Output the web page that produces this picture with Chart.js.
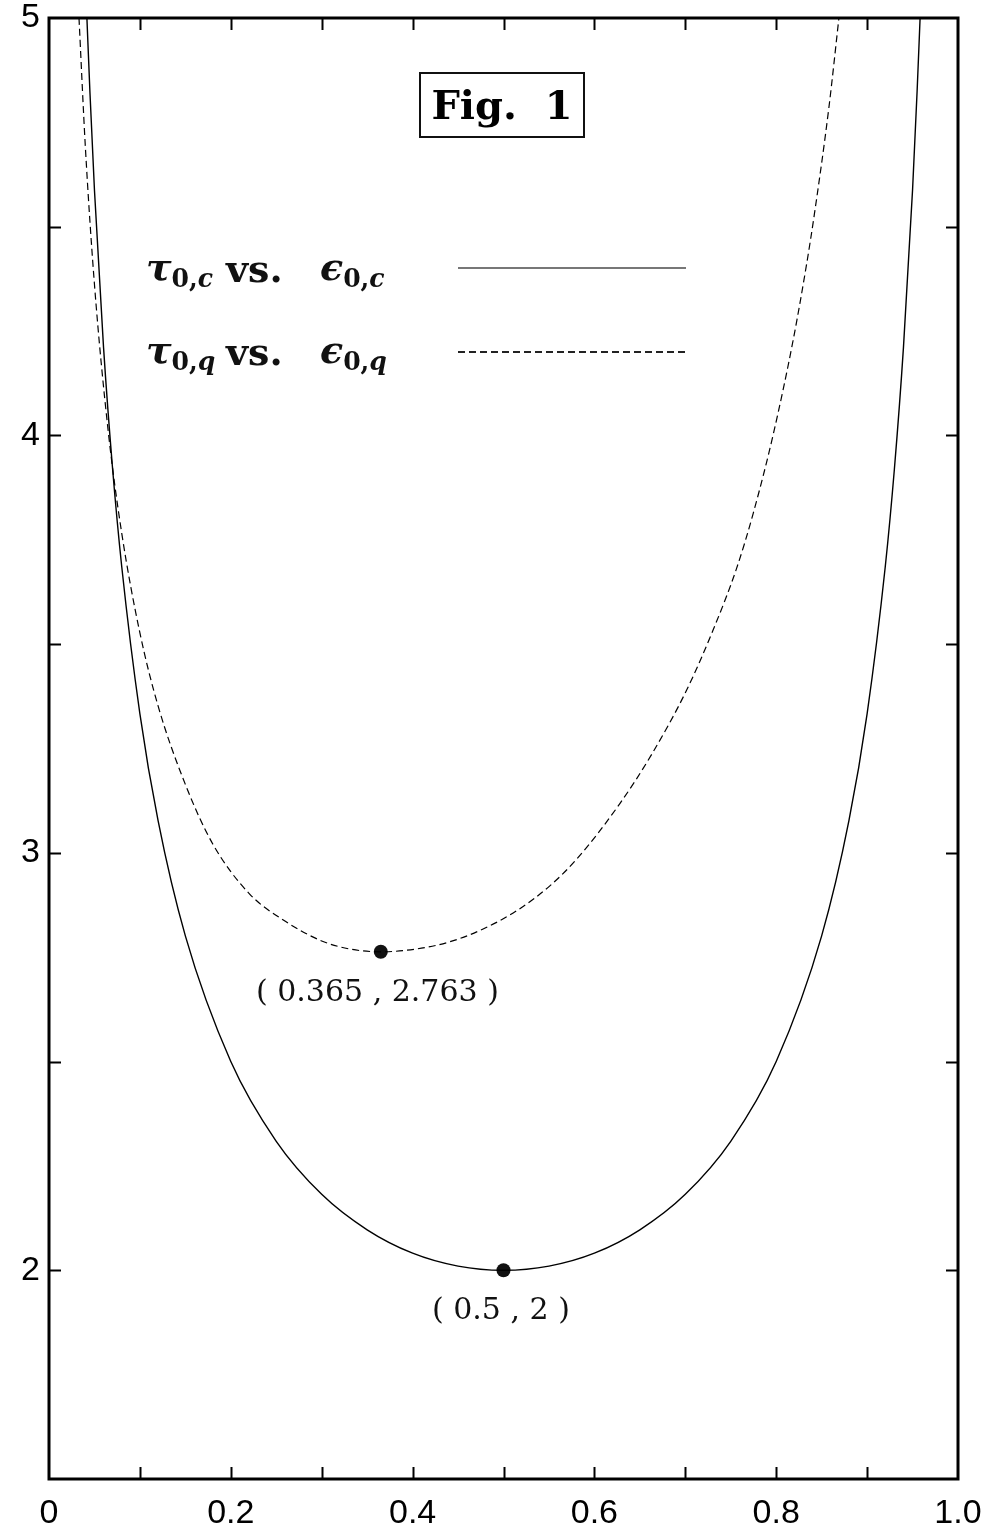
<!DOCTYPE html>
<html>
<head>
<meta charset="utf-8">
<script src="https://cdn.jsdelivr.net/npm/chart.js@4.4.0/dist/chart.umd.min.js"></script>
<style>
  html, body { margin: 0; padding: 0; background: #fff; }
  #wrap { position: relative; width: 986px; height: 1531px; }
  #chart { position: absolute; left: 0; top: 0; }
  .txt { position: absolute; white-space: nowrap; color: #111; line-height: 1; }
  .math { font-family: 'DejaVu Serif', 'Liberation Serif', serif; font-weight: bold; font-size: 38px; }
  .math i { font-style: italic; }
  .math sub { font-size: 0.66em; vertical-align: -0.28em; }
  .vs { font-family: 'DejaVu Serif', serif; font-weight: bold; font-size: 38px; }
  .figbox { position: absolute; left: 419px; top: 72px; width: 162px; height: 62px; border: 2px solid #111;
            font-family: 'DejaVu Serif', serif; font-weight: bold; font-size: 40px; line-height: 62px; text-align: center; }
  .sample { position: absolute; left: 458px; width: 228px; }
  .note { font-family: 'DejaVu Serif', 'Liberation Serif', serif; font-size: 30px; }
</style>
</head>
<body>
<div id="wrap">
  <canvas id="chart" width="986" height="1531"></canvas>

  <div class="figbox">Fig.&nbsp; 1</div>

  <div class="txt math" style="left:146px; top:248px;"><i>τ</i><sub>0,<i>c</i></sub></div>
  <div class="txt vs" style="left:226px; top:250px;">vs.</div>
  <div class="txt math" style="left:320px; top:248px;"><i>ϵ</i><sub>0,<i>c</i></sub></div>
  <div class="sample" style="top:267px; height:2px; background:#777;"></div>

  <div class="txt math" style="left:146px; top:331px;"><i>τ</i><sub>0,<i>q</i></sub></div>
  <div class="txt vs" style="left:226px; top:333px;">vs.</div>
  <div class="txt math" style="left:320px; top:331px;"><i>ϵ</i><sub>0,<i>q</i></sub></div>
  <div class="sample" style="top:351px; height:1.5px; background:repeating-linear-gradient(to right, #222 0 7px, transparent 7px 11px);"></div>

  <div class="txt note" style="left:256px; top:976px;">( 0.365 , 2.763 )</div>
  <div class="txt note" style="left:432px; top:1294px;">( 0.5 , 2 )</div>
</div>

<script>
// tau_0,c vs eps_0,c (solid curve, minimum at 0.5)
const classicalEps = [0.0417, 0.045, 0.05, 0.06, 0.07, 0.08, 0.10, 0.12, 0.15, 0.20, 0.25, 0.30, 0.35, 0.40, 0.45, 0.50,
                      0.55, 0.60, 0.65, 0.70, 0.75, 0.80, 0.85, 0.88, 0.90, 0.92, 0.93, 0.94, 0.95, 0.955, 0.9583];
const classicalTau = [5.0, 4.824, 4.588, 4.211, 3.919, 3.686, 3.333, 3.077, 2.801, 2.5, 2.309, 2.182, 2.097, 2.041, 2.010, 2.0,
                      2.010, 2.041, 2.097, 2.182, 2.309, 2.5, 2.801, 3.077, 3.333, 3.686, 3.919, 4.211, 4.588, 4.824, 5.0];

// tau_0,q vs eps_0,q (dashed curve, minimum at 0.365)
const quantumEps = [0.033, 0.040, 0.050, 0.065, 0.080, 0.100, 0.120, 0.150, 0.180, 0.220, 0.260, 0.300, 0.330, 0.365,
                    0.405, 0.441, 0.477, 0.515, 0.551, 0.5805, 0.628, 0.663, 0.7015, 0.7308, 0.7565, 0.7748, 0.7968,
                    0.8188, 0.8335, 0.842, 0.858, 0.869];
const quantumTau = [5.0, 4.691, 4.362, 4.013, 3.766, 3.527, 3.352, 3.164, 3.022, 2.903, 2.836, 2.789, 2.770, 2.763,
                    2.770, 2.787, 2.817, 2.862, 2.921, 2.985, 3.118, 3.236, 3.390, 3.535, 3.682, 3.814, 4.003,
                    4.230, 4.411, 4.530, 4.786, 5.0];

// marked minima
const minEps = [0.365, 0.5];
const minTau = [2.763, 2];

const xLabels = ['0', '0.2', '0.4', '0.6', '0.8', '1.0'];
const yLabels = ['2', '3', '4', '5'];

const toPoints = (xs, ys) => xs.map((x, i) => ({ x, y: ys[i] }));

const tickFont = { family: "'Liberation Sans Narrow', 'Liberation Sans', Arial, sans-serif", size: 34, lineHeight: 1 };

// frame + inward tick marks on all four sides
const framePlugin = {
  id: 'frame',
  afterDatasetsDraw(chart) {
    const { ctx, chartArea: a, scales: { x, y } } = chart;
    ctx.save();
    ctx.strokeStyle = '#000';
    ctx.lineWidth = 2;
    ctx.beginPath();
    for (let v = 0.1; v < 0.95; v += 0.1) {
      const px = Math.round(x.getPixelForValue(v)) + 0.5;
      ctx.moveTo(px, a.bottom); ctx.lineTo(px, a.bottom - 12);
      ctx.moveTo(px, a.top); ctx.lineTo(px, a.top + 12);
    }
    for (let v = 2; v < 4.9; v += 0.5) {
      const py = Math.round(y.getPixelForValue(v)) + 0.5;
      ctx.moveTo(a.left, py); ctx.lineTo(a.left + 12, py);
      ctx.moveTo(a.right, py); ctx.lineTo(a.right - 12, py);
    }
    ctx.stroke();
    ctx.lineWidth = 3;
    ctx.strokeRect(a.left, a.top, a.right - a.left, a.bottom - a.top);
    ctx.restore();
  }
};

new Chart(document.getElementById('chart'), {
  type: 'line',
  data: {
    datasets: [
      {
        data: toPoints(classicalEps, classicalTau),
        borderColor: '#000', borderWidth: 1.4, pointRadius: 0,
        cubicInterpolationMode: 'monotone', fill: false
      },
      {
        data: toPoints(quantumEps, quantumTau),
        borderColor: '#000', borderWidth: 1.2, borderDash: [7, 4], pointRadius: 0,
        cubicInterpolationMode: 'monotone', fill: false
      },
      {
        data: toPoints(minEps, minTau),
        showLine: false, pointRadius: 7, pointBackgroundColor: '#111', pointBorderColor: '#111', pointBorderWidth: 0
      }
    ]
  },
  options: {
    responsive: false,
    animation: false,
    layout: { padding: { top: 18, right: 28, left: 0, bottom: 0 } },
    plugins: { legend: { display: false }, tooltip: { enabled: false } },
    scales: {
      x: {
        type: 'linear', min: 0, max: 1,
        grid: { display: false }, border: { display: false },
        ticks: {
          stepSize: 0.2, autoSkip: false, maxRotation: 0, color: '#000', font: tickFont, padding: 10,
          callback: (v) => xLabels[Math.round(v * 5)] ?? ''
        },
        afterFit: (s) => { s.height = 52; s.paddingLeft = 0; s.paddingRight = 0; }
      },
      y: {
        type: 'linear', min: 1.5, max: 5,
        grid: { display: false }, border: { display: false },
        ticks: {
          stepSize: 0.5, autoSkip: false, color: '#000', font: tickFont, padding: 1,
          callback: (v) => Number.isInteger(v) ? yLabels[v - 2] : ''
        },
        afterFit: (s) => { s.width = 49; }
      }
    }
  },
  plugins: [framePlugin]
});
</script>
</body>
</html>
